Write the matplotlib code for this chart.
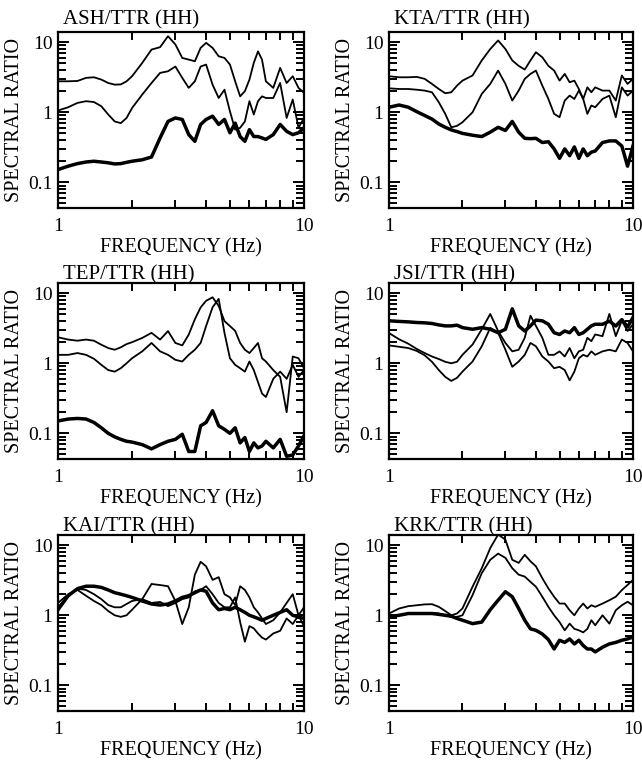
import numpy as np
import matplotlib.pyplot as plt
from matplotlib.ticker import FixedLocator, LogLocator, NullFormatter

plt.rcParams['font.family'] = ['Liberation Serif', 'DejaVu Serif']

# frequency grid (Hz)
FREQ = [1.0, 1.1, 1.2, 1.3, 1.4, 1.5, 1.6, 1.7, 1.8, 1.9,
        2.0, 2.2, 2.4, 2.6, 2.8, 3.0, 3.2, 3.4, 3.6, 3.8,
        4.0, 4.25, 4.5, 4.75, 5.0, 5.25, 5.5, 5.75, 6.0, 6.25,
        6.5, 6.75, 7.0, 7.5, 8.0, 8.5, 9.0, 9.5, 10.0]

# ASH/TTR
ash_a = [2.77, 2.77, 2.8, 3.1, 3.16, 2.93, 2.62, 2.48, 2.5, 2.77,
         3.27, 5.07, 7.86, 8.5, 12.2, 9.3, 5.97, 5.65, 5.35, 8.3,
         9.8, 8.3, 6.3, 5.97, 4.8, 2.77, 1.69, 2.0, 2.93, 5.07,
         7.4, 5.65, 2.77, 2.23, 4.3, 2.62, 3.27, 2.23, 1.89]
ash_b = [1.06, 1.18, 1.36, 1.44, 1.4, 1.22, 0.93, 0.74, 0.70, 0.83,
         1.15, 1.79, 2.62, 3.65, 3.85, 4.5, 3.1, 2.23, 2.77, 4.5,
         4.8, 2.48, 1.6, 2.1, 1.03, 0.565, 0.6, 0.74, 1.44, 0.93,
         1.44, 1.69, 1.6, 1.6, 2.62, 0.83, 1.52, 0.6, 0.83]
ash_c = [0.152, 0.17, 0.185, 0.195, 0.2, 0.195, 0.19, 0.183, 0.185, 0.193,
         0.2, 0.21, 0.23, 0.43, 0.74, 0.83, 0.79, 0.48, 0.385, 0.67,
         0.79, 0.88, 0.67, 0.79, 0.51, 0.70, 0.45, 0.385, 0.565, 0.45,
         0.45, 0.43, 0.41, 0.48, 0.67, 0.535, 0.48, 0.51, 0.6]

# KTA/TTR
kta_a = [3.27, 3.16, 3.16, 3.2, 3.0, 2.54, 2.15, 1.87, 1.93, 2.4,
         2.83, 3.35, 5.5, 8.0, 10.6, 8.0, 5.5, 4.6, 4.07, 5.5,
         7.2, 6.1, 4.6, 3.94, 2.83, 3.53, 2.68, 2.83, 2.15, 1.55,
         2.27, 1.93, 2.27, 2.04, 2.04, 1.47, 3.35, 2.54, 3.0]
kta_b = [2.2, 2.15, 2.15, 2.1, 2.04, 1.93, 1.39, 0.95, 0.61, 0.64,
         0.72, 1.0, 1.83, 2.54, 3.94, 2.54, 1.47, 2.04, 3.0, 3.53,
         3.94, 2.4, 1.55, 0.95, 0.85, 1.47, 1.73, 1.55, 2.04, 1.55,
         0.95, 1.25, 1.18, 1.55, 1.73, 0.85, 2.27, 1.73, 2.04]
kta_c = [1.18, 1.27, 1.18, 1.02, 0.9, 0.8, 0.68, 0.61, 0.56, 0.53,
         0.5, 0.47, 0.45, 0.52, 0.61, 0.55, 0.74, 0.52, 0.425, 0.42,
         0.425, 0.37, 0.38, 0.3, 0.22, 0.3, 0.24, 0.32, 0.22, 0.3,
         0.24, 0.27, 0.28, 0.37, 0.39, 0.39, 0.33, 0.17, 0.33]

# TEP/TTR
tep_a = [2.35, 2.18, 2.1, 2.18, 2.1, 1.84, 1.65, 1.56, 1.69, 1.88,
         2.0, 2.3, 2.72, 2.18, 2.88, 1.95, 1.8, 2.57, 4.25, 6.27,
         7.8, 8.75, 6.6, 4.0, 3.4, 2.9, 1.95, 1.56, 1.4, 1.65,
         1.95, 1.18, 1.06, 0.8, 0.64, 0.2, 1.25, 1.18, 0.85]
tep_b = [1.32, 1.32, 1.4, 1.32, 1.16, 0.95, 0.8, 0.76, 0.85, 1.0,
         1.18, 1.48, 1.95, 1.48, 1.32, 1.12, 1.06, 1.32, 1.56, 1.95,
         3.4, 6.3, 8.3, 2.72, 1.18, 0.95, 0.85, 0.76, 1.06, 0.8,
         0.54, 0.37, 0.33, 0.6, 0.76, 0.6, 0.95, 0.64, 0.8]
tep_c = [0.15, 0.16, 0.163, 0.16, 0.143, 0.12, 0.1, 0.089, 0.082, 0.077,
         0.075, 0.069, 0.06, 0.069, 0.077, 0.082, 0.097, 0.055, 0.055, 0.128,
         0.143, 0.21, 0.128, 0.114, 0.1, 0.12, 0.073, 0.087, 0.055, 0.073,
         0.062, 0.066, 0.077, 0.062, 0.082, 0.047, 0.049, 0.066, 0.092]

# JSI/TTR
jsi_a = [2.7, 2.2, 1.9, 1.6, 1.4, 1.25, 1.15, 1.05, 1.0, 1.05,
         1.32, 1.85, 3.06, 5.06, 2.89, 1.95, 1.48, 1.56, 2.31, 4.78,
         3.42, 2.31, 1.32, 1.32, 1.48, 1.25, 1.65, 1.18, 1.48, 1.56,
         2.31, 2.07, 2.58, 2.44, 5.06, 2.44, 4.04, 2.89, 3.6]
jsi_b = [1.8, 1.72, 1.65, 1.5, 1.3, 1.05, 0.8, 0.64, 0.56, 0.62,
         0.76, 1.06, 1.75, 3.2, 2.73, 1.56, 0.89, 1.06, 1.32, 1.95,
         1.75, 1.25, 1.06, 0.85, 0.89, 0.8, 0.57, 0.76, 1.18, 1.32,
         1.25, 1.48, 1.32, 1.48, 1.56, 1.48, 2.18, 1.95, 1.48]
jsi_c = [4.04, 3.96, 3.9, 3.82, 3.78, 3.7, 3.53, 3.42, 3.42, 3.5,
         3.23, 3.06, 3.23, 3.06, 2.73, 3.06, 6.0, 3.42, 2.89, 3.42,
         4.13, 4.04, 3.61, 2.73, 2.58, 2.89, 2.73, 3.23, 2.58, 2.73,
         3.06, 3.42, 3.61, 3.6, 4.0, 3.4, 4.2, 3.3, 4.5]

# KAI/TTR
kai_a = [1.5, 2.0, 2.3, 1.9, 1.6, 1.4, 1.15, 1.0, 0.95, 1.0,
         1.2, 1.7, 2.8, 2.7, 2.6, 1.6, 0.75, 1.3, 3.8, 5.8,
         5.0, 3.2, 3.5, 2.0, 1.8, 1.4, 2.6, 2.3, 1.8, 1.3,
         1.1, 0.9, 0.75, 0.85, 1.1, 1.5, 2.0, 1.0, 1.3]
kai_b = [1.3, 1.9, 2.4, 2.3, 2.0, 1.7, 1.4, 1.3, 1.3, 1.45,
         1.6, 1.7, 1.5, 1.55, 1.35, 1.5, 1.7, 1.8, 2.2, 2.3,
         2.6, 2.0, 1.5, 1.3, 1.3, 1.8, 0.8, 0.42, 0.7, 0.65,
         0.55, 0.48, 0.45, 0.55, 0.6, 0.9, 0.75, 1.0, 0.7]
kai_c = [1.2, 1.9, 2.4, 2.6, 2.6, 2.5, 2.3, 2.1, 2.0, 1.9,
         1.8, 1.6, 1.45, 1.4, 1.45, 1.6, 1.8, 1.9, 2.1, 2.3,
         2.2, 1.5, 1.2, 1.25, 1.2, 1.3, 1.2, 1.1, 1.0, 0.95,
         0.9, 0.85, 0.9, 1.0, 1.1, 1.2, 1.0, 0.95, 0.9]

# KRK/TTR
krk_a = [1.06, 1.25, 1.35, 1.39, 1.43, 1.44, 1.32, 1.15, 1.0, 1.06,
         1.25, 2.56, 4.7, 9.1, 14.2, 12.0, 6.2, 5.6, 7.3, 5.9,
         5.0, 3.38, 2.42, 1.84, 1.47, 1.47, 1.18, 1.0, 1.25, 1.47,
         1.25, 1.39, 1.32, 1.47, 1.64, 1.84, 2.29, 2.71, 3.2]
krk_b = [0.9, 1.0, 1.06, 1.08, 1.08, 1.08, 1.06, 1.0, 0.95, 0.95,
         1.0, 1.94, 4.0, 6.2, 7.6, 6.6, 4.7, 3.8, 3.57, 3.0,
         2.56, 1.84, 1.32, 1.0, 0.8, 0.61, 0.76, 0.64, 0.61, 0.57,
         0.64, 0.85, 0.72, 1.0, 0.76, 1.18, 1.39, 1.56, 1.39]
krk_c = [0.95, 1.0, 1.06, 1.06, 1.06, 1.06, 1.03, 1.0, 0.97, 0.9,
         0.85, 0.76, 0.8, 1.2, 1.64, 2.17, 1.84, 1.25, 0.85, 0.64,
         0.61, 0.54, 0.45, 0.33, 0.44, 0.41, 0.46, 0.39, 0.44, 0.37,
         0.33, 0.33, 0.3, 0.35, 0.39, 0.41, 0.44, 0.46, 0.49]

TITLES = ["ASH/TTR (HH)", "KTA/TTR (HH)", "TEP/TTR (HH)",
          "JSI/TTR (HH)", "KAI/TTR (HH)", "KRK/TTR (HH)"]
CURVES = [(ash_a, ash_b, ash_c), (kta_a, kta_b, kta_c),
          (tep_a, tep_b, tep_c), (jsi_a, jsi_b, jsi_c),
          (kai_a, kai_b, kai_c), (krk_a, krk_b, krk_c)]

W, H = 642, 764
fig = plt.figure(figsize=(W / 100, H / 100), dpi=100)

col_left = [58, 389]
col_width = [246, 244]
row_top = [32, 283, 535]
row_h = 176
title_y = [1.04, 1.022, 1.018]

for i, (title, curves) in enumerate(zip(TITLES, CURVES)):
    r, c = divmod(i, 2)
    ax = fig.add_axes([col_left[c] / W, 1 - (row_top[r] + row_h) / H,
                       col_width[c] / W, row_h / H])
    thin_a, thin_b, thick = curves
    ax.plot(FREQ, thin_a, color="black", lw=1.3)
    ax.plot(FREQ, thin_b, color="black", lw=1.3)
    ax.plot(FREQ, thick, color="black", lw=2.5)

    ax.set_xscale("log")
    ax.set_yscale("log")
    ax.set_xlim(1, 10)
    ax.set_ylim(0.043, 14)

    ax.set_xticks([1, 10])
    ax.set_xticklabels(["1", "10"])
    ax.xaxis.set_minor_locator(FixedLocator([2, 3, 4, 5, 6, 7, 8, 9]))
    ax.xaxis.set_minor_formatter(NullFormatter())
    ax.set_yticks([0.1, 1, 10])
    ax.set_yticklabels(["0.1", "1", "10"])
    ax.yaxis.set_minor_locator(LogLocator(base=10, subs=np.arange(2, 10) * 1.0, numticks=20))
    ax.yaxis.set_minor_formatter(NullFormatter())

    ax.tick_params(which="both", direction="in", top=True, right=True, width=1.4)
    ax.tick_params(which="major", length=8, labelsize=14)
    ax.tick_params(which="minor", length=5.5)
    ax.tick_params(axis="x", which="major", pad=7)
    ax.tick_params(axis="y", which="major", pad=4)
    for s in ax.spines.values():
        s.set_linewidth(1.6)

    ax.set_xlabel("FREQUENCY (Hz)", fontsize=14.5)
    ax.set_ylabel("SPECTRAL RATIO", fontsize=14.5)
    ax.xaxis.set_label_coords(0.5, -0.17)
    ax.yaxis.set_label_coords(-0.14, 0.5)
    ax.text(0.02, title_y[r], title, transform=ax.transAxes,
            fontsize=15, ha="left", va="baseline")

plt.savefig("out.png", dpi=100)
